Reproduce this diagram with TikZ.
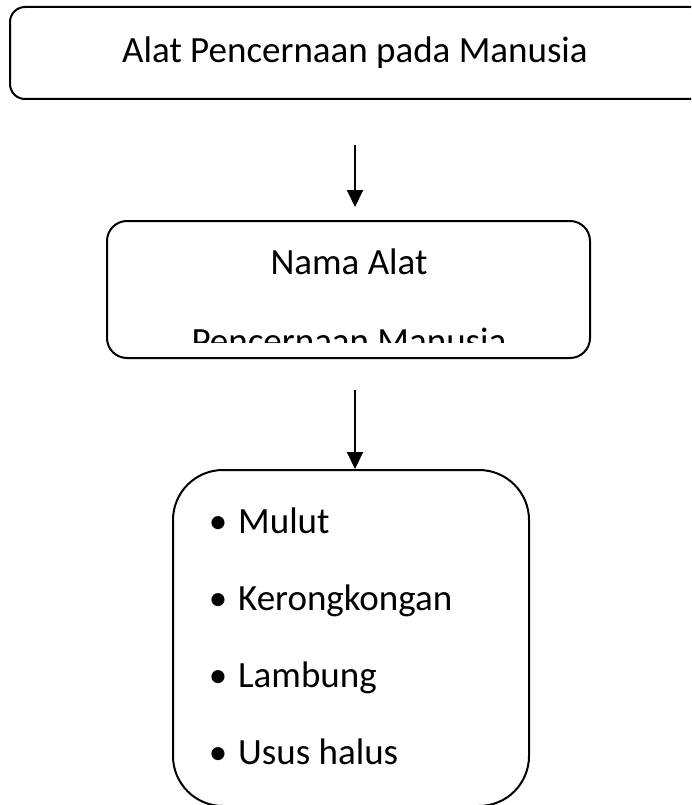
\documentclass[tikz,border=0pt]{standalone}
\usepackage{fontspec}
\setmainfont{Carlito}
\usetikzlibrary{arrows.meta}
\tikzset{
  box/.style={draw=black, line width=2pt, rounded corners=#1, inner sep=0pt, fill=none},
  box/.default=15pt,
  lbl/.style={inner sep=0pt, font=\fontsize{37}{44}\selectfont, text=black},
  conn/.style={line width=2pt, -{Triangle[length=17pt,width=16pt]}}
}
\begin{document}
\begin{tikzpicture}[x=1pt,y=-1pt]
\clip (0,0) rectangle (691,805);
\fill[white] (0,0) rectangle (691,805);
% top box (extends past the right edge)
\node[box=15pt, minimum width=695pt, minimum height=92pt] (b1) at (357.5,53) {};
\node[lbl, anchor=base] (t1) at (355,63) {Alat Pencernaan pada Manusia};
% arrow 1
\coordinate (a1s) at (355,145);
\coordinate (a1e) at (355,207);
\draw[conn] (a1s) -- (a1e);
% second box
\node[box=20pt, minimum width=483pt, minimum height=137pt] (b2) at (348.5,289.5) {};
\node[lbl, anchor=base] (t2) at (349,274) {Nama Alat};
\begin{scope}
\clip (107,221) rectangle (590,342);
\node[lbl, anchor=base] (t3) at (349,353) {Pencernaan Manusia};
\end{scope}
% arrow 2
\coordinate (a2s) at (355,390);
\coordinate (a2e) at (355,469);
\draw[conn] (a2s) -- (a2e);
% third box (bottom cut off)
\node[box=50pt, minimum width=356pt, minimum height=336pt] (b3) at (351,638) {};
\foreach \yy/\txt/\nm in {533/Mulut/m, 610/Kerongkongan/k, 687/Lambung/l, 764/Usus halus/u}{
  \node[lbl, anchor=base] (bul\nm) at (218,\yy) {•};
  \node[lbl, anchor=base west] (it\nm) at (238,\yy) {\txt};
}
\end{tikzpicture}
\end{document}
